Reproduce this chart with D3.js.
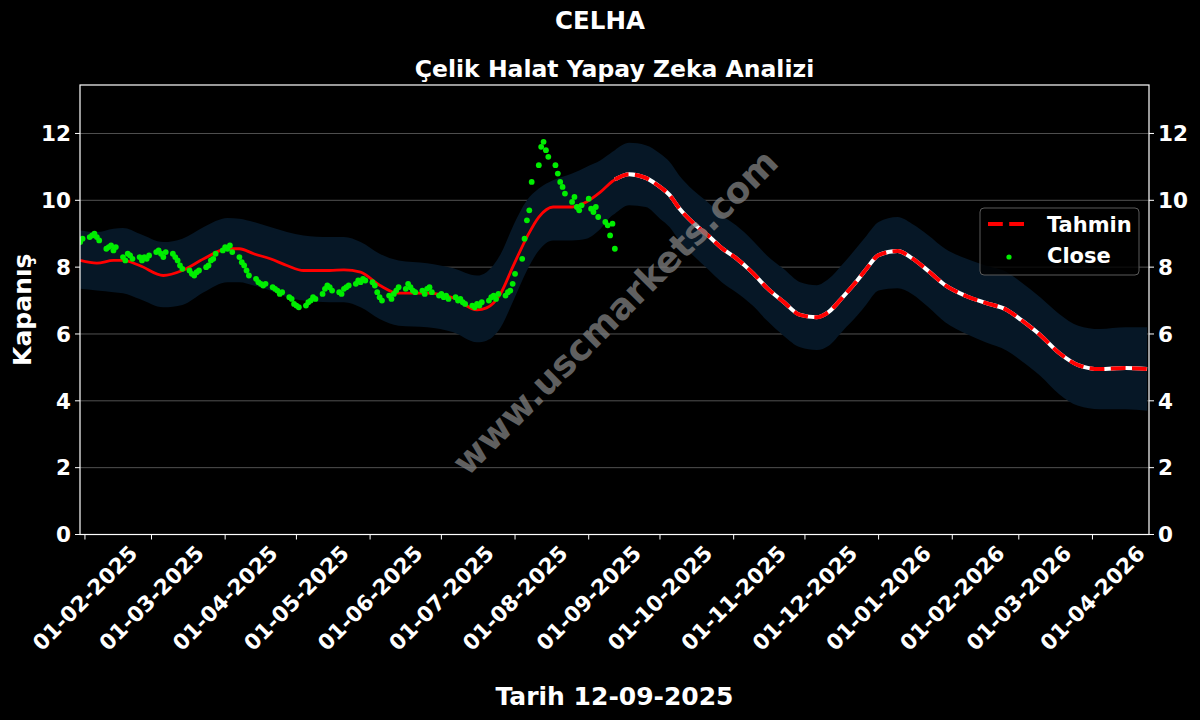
<!DOCTYPE html>
<html><head><meta charset="utf-8">
<script src="https://cdn.jsdelivr.net/npm/d3@7"></script>
<style>html,body{margin:0;padding:0;background:#000;} svg{display:block}</style>
</head><body>
<script>
// ---------------- DATA ----------------
const chartTitle = "CELHA";
const chartSubtitle = "Çelik Halat Yapay Zeka Analizi";
const xAxisTitle = "Tarih 12-09-2025";
const yAxisTitle = "Kapanış";
const watermarkText = "www.uscmarkets.com";
const legendLabels = ["Tahmin", "Close"];

// Close prices, one per weekday starting at closeStart
const closeStart = "2025-01-30";
const closeValues = [
  8.75, 8.85,
  8.9, 8.95, 9.0, 8.9, 8.8,
  8.55, 8.6, 8.65, 8.5, 8.6,
  8.3, 8.2, 8.4, 8.35, 8.25,
  8.3, 8.2, 8.3, 8.25, 8.35,
  8.45, 8.5, 8.4, 8.3, 8.45,
  8.4, 8.3, 8.2, 8.05, 7.95,
  7.9, 7.8, 7.75, 7.85, 7.9,
  8.0, 8.05, 8.2, 8.25, 8.4,
  8.5, 8.6, 8.55, 8.65, 8.45,
  8.3, 8.15, 8.05, 7.9, 7.75,
  7.65, 7.55, 7.5, 7.45, 7.5,
  7.4, 7.35, 7.3, 7.2, 7.25,
  7.1, 7.05, 6.9, 6.85, 6.8,
  6.85, 6.95, 7.0, 7.1, 7.05,
  7.2, 7.35, 7.45, 7.4, 7.3,
  7.25, 7.2, 7.35, 7.4, 7.45,
  7.5, 7.6, 7.55, 7.65, 7.6,
  7.55, 7.45, 7.25, 7.1, 7.0,
  7.15, 7.05, 7.2, 7.3, 7.4,
  7.35, 7.5, 7.4, 7.3, 7.25,
  7.3, 7.2, 7.35, 7.4, 7.25,
  7.15, 7.2, 7.1, 7.15, 7.05,
  7.1, 7.0, 7.05, 6.95, 6.9,
  6.85, 6.8, 6.9, 6.85, 6.95,
  7.0, 7.1, 7.15, 7.05, 7.2,
  7.15, 7.25, 7.3, 7.5, 7.8,
  8.25, 8.85, 9.4, 9.7, 10.55,
  11.05, 11.6, 11.75, 11.5, 11.3,
  11.05, 10.8, 10.55, 10.4, 10.2,
  9.95, 10.1, 9.8, 9.7, 9.85,
  10.05, 9.75, 9.65, 9.8, 9.5,
  9.35, 9.25, 8.95, 9.3, 8.55
];

const predDates = [
  "2025-01-30","2025-02-06","2025-02-13","2025-02-17","2025-02-24","2025-03-06","2025-03-14","2025-03-23",
  "2025-04-02","2025-04-07","2025-04-13","2025-04-20","2025-04-27","2025-05-04","2025-05-15","2025-05-21",
  "2025-05-28","2025-06-05","2025-06-13","2025-06-25","2025-07-06","2025-07-16","2025-07-20","2025-07-26",
  "2025-07-31","2025-08-06","2025-08-11","2025-08-17","2025-08-25","2025-08-31","2025-09-06","2025-09-11",
  "2025-09-12","2025-09-18","2025-09-25","2025-10-01","2025-10-05","2025-10-09","2025-10-15","2025-10-21",
  "2025-10-27","2025-11-02","2025-11-09","2025-11-15","2025-11-22","2025-11-29","2025-12-06","2025-12-11",
  "2025-12-17","2025-12-23","2025-12-27","2026-01-01","2026-01-09","2026-01-15","2026-01-22","2026-01-29",
  "2026-02-07","2026-02-15","2026-02-24","2026-03-02","2026-03-10","2026-03-18","2026-03-26","2026-04-04",
  "2026-04-15","2026-04-24"
];
const predValues = [
  8.2, 8.12, 8.2, 8.2, 8.05, 7.75, 7.9, 8.25,
  8.55, 8.55, 8.4, 8.25, 8.05, 7.9, 7.9, 7.92,
  7.85, 7.46, 7.22, 7.22, 7.08, 6.72, 6.78, 7.22,
  8.0, 8.9, 9.5, 9.8, 9.8, 9.95, 10.25, 10.57,
  10.62, 10.78, 10.67, 10.4, 10.16, 9.77, 9.32, 8.96,
  8.57, 8.27, 7.83, 7.38, 6.96, 6.57, 6.5, 6.66,
  7.11, 7.6, 7.96, 8.36, 8.48, 8.27, 7.88, 7.46,
  7.13, 6.93, 6.72, 6.42, 5.97, 5.43, 5.07, 4.95,
  4.98, 4.95
];
const bandUpper = [
  9.1, 9.05, 9.15, 9.17, 9.0, 8.75, 8.85, 9.2,
  9.47, 9.45, 9.35, 9.2, 9.05, 8.95, 8.9, 8.9,
  8.75, 8.4, 8.2, 8.12, 7.97, 7.75, 7.85, 8.4,
  9.2, 10.0, 10.35, 10.6, 10.8, 11.0, 11.2, 11.45,
  11.5, 11.72, 11.65, 11.4, 11.15, 10.75, 10.3, 9.95,
  9.55, 9.25, 8.8, 8.35, 7.95, 7.55, 7.46, 7.65,
  8.1, 8.6, 8.95, 9.35, 9.5, 9.3, 8.95, 8.55,
  8.25, 8.05, 7.85, 7.55, 7.1, 6.6, 6.25, 6.15,
  6.2, 6.2
];
const bandLower = [
  7.35, 7.3, 7.25, 7.22, 7.05, 6.8, 6.87, 7.25,
  7.55, 7.55, 7.45, 7.3, 7.1, 7.0, 6.95, 6.95,
  6.8, 6.45, 6.25, 6.2, 6.05, 5.75, 5.8, 6.2,
  6.95, 7.9, 8.5, 8.8, 8.8, 8.85, 9.15, 9.55,
  9.6, 9.85, 9.8, 9.45, 9.2, 8.8, 8.35, 7.95,
  7.55, 7.25, 6.85, 6.4, 5.95, 5.6, 5.52, 5.65,
  6.1, 6.55, 6.9, 7.3, 7.37, 7.2, 6.8, 6.35,
  6.0, 5.75, 5.5, 5.2, 4.75, 4.2, 3.85, 3.75,
  3.75, 3.7
];
const forecastStart = "2025-09-12";

const xTickDates = ["2025-02-01","2025-03-01","2025-04-01","2025-05-01","2025-06-01","2025-07-01","2025-08-01",
  "2025-09-01","2025-10-01","2025-11-01","2025-12-01","2026-01-01","2026-02-01","2026-03-01","2026-04-01"];
const yTickValues = [0, 2, 4, 6, 8, 10, 12];

// ---------------- LAYOUT ----------------
const W = 1200, H = 720;
const plot = {left: 80, right: 1149, top: 85, bottom: 534.5};
const xDomain = [new Date(Date.UTC(2025,0,29,22)), new Date(Date.UTC(2026,3,24,19))];
const yDomain = [0, 13.45];
const FONT = "'DejaVu Sans', sans-serif";

const parse = d3.utcParse("%Y-%m-%d");
const fmt = d3.utcFormat("%d-%m-%Y");

// close dates: consecutive weekdays
const closeDates = [];
{
  let d = parse(closeStart);
  while (closeDates.length < closeValues.length) {
    const wd = d.getUTCDay();
    if (wd !== 0 && wd !== 6) closeDates.push(new Date(d));
    d = d3.utcDay.offset(d, 1);
  }
}
const closeData = closeValues.map((v, i) => ({date: closeDates[i], value: v}));
const predData = predValues.map((v, i) => ({date: parse(predDates[i]), value: v, hi: bandUpper[i], lo: bandLower[i]}));
const fStart = parse(forecastStart);
const predHist = predData.filter(d => d.date <= fStart);
const predFut = predData.filter(d => d.date >= fStart);

const x = d3.scaleUtc().domain(xDomain).range([plot.left, plot.right]);
const y = d3.scaleLinear().domain(yDomain).range([plot.bottom, plot.top]);

const svg = d3.select("body").append("svg").attr("width", W).attr("height", H)
  .style("background", "#000");
svg.append("rect").attr("width", W).attr("height", H).attr("fill", "#000");

const clipId = "plotclip";
svg.append("clipPath").attr("id", clipId).append("rect")
  .attr("x", plot.left).attr("y", plot.top)
  .attr("width", plot.right - plot.left).attr("height", plot.bottom - plot.top);

// gridlines
svg.append("g").selectAll("line").data(yTickValues).join("line")
  .attr("x1", plot.left).attr("x2", plot.right)
  .attr("y1", d => y(d)).attr("y2", d => y(d))
  .attr("stroke", "#7a7a7a").attr("stroke-width", 0.8).attr("opacity", 0.85);

const g = svg.append("g").attr("clip-path", `url(#${clipId})`);

// band
g.append("path").datum(predData)
  .attr("d", d3.area().x(d => x(d.date)).y0(d => y(d.lo)).y1(d => y(d.hi)).curve(d3.curveMonotoneX))
  .attr("fill", "#061726");

// watermark
svg.append("text")
  .attr("transform", `translate(615,312) rotate(-45)`)
  .attr("text-anchor", "middle").attr("dominant-baseline", "central")
  .attr("font-family", FONT).attr("font-weight", "bold").attr("font-size", 36)
  .attr("fill", "#808080").attr("opacity", 0.75)
  .text(watermarkText);

const line = d3.line().x(d => x(d.date)).y(d => y(d.value)).curve(d3.curveMonotoneX);

// historic prediction
g.append("path").datum(predHist).attr("d", line)
  .attr("fill", "none").attr("stroke", "#ff0000").attr("stroke-width", 2.8);

// future prediction: white underlay + red dashes
g.append("path").datum(predFut).attr("d", line)
  .attr("fill", "none").attr("stroke", "#ffffff").attr("stroke-width", 4);
g.append("path").datum(predFut).attr("d", line)
  .attr("fill", "none").attr("stroke", "#ff0000").attr("stroke-width", 4)
  .attr("stroke-dasharray", "14.8,6.4");

// close points
g.append("g").selectAll("circle").data(closeData).join("circle")
  .attr("cx", d => x(d.date)).attr("cy", d => y(d.value)).attr("r", 2.9)
  .attr("fill", "#00ee00");

// frame
svg.append("rect").attr("x", plot.left).attr("y", plot.top)
  .attr("width", plot.right - plot.left).attr("height", plot.bottom - plot.top)
  .attr("fill", "none").attr("stroke", "#fff").attr("stroke-width", 1.2);

// y ticks left & right
const yfs = 21.5;
const yt = svg.append("g");
yTickValues.forEach(v => {
  yt.append("line").attr("x1", plot.left - 5).attr("x2", plot.left).attr("y1", y(v)).attr("y2", y(v))
    .attr("stroke", "#fff").attr("stroke-width", 1);
  yt.append("line").attr("x1", plot.right).attr("x2", plot.right + 5).attr("y1", y(v)).attr("y2", y(v))
    .attr("stroke", "#fff").attr("stroke-width", 1);
  yt.append("text").attr("x", plot.left - 9).attr("y", y(v)).attr("dy", "0.36em")
    .attr("text-anchor", "end").attr("font-family", FONT).attr("font-weight", "bold")
    .attr("font-size", yfs).attr("fill", "#fff").text(v);
  yt.append("text").attr("x", plot.right + 9).attr("y", y(v)).attr("dy", "0.36em")
    .attr("text-anchor", "start").attr("font-family", FONT).attr("font-weight", "bold")
    .attr("font-size", yfs).attr("fill", "#fff").text(v);
});

// x ticks
const xt = svg.append("g");
const xfs = 21.5;
xTickDates.forEach(s => {
  const d = parse(s), px = x(d);
  xt.append("line").attr("x1", px).attr("x2", px).attr("y1", plot.bottom).attr("y2", plot.bottom + 5)
    .attr("stroke", "#fff").attr("stroke-width", 1);
  const t = xt.append("text").attr("font-family", FONT).attr("font-weight", "bold")
    .attr("font-size", xfs).attr("fill", "#fff").attr("text-anchor", "middle")
    .attr("dominant-baseline", "central").text(fmt(d));
  const L = t.node().getComputedTextLength();
  const bh = (L + xfs * 0.78) / Math.SQRT2;
  const cy = plot.bottom + 9 + bh / 2;
  t.attr("transform", `translate(${px},${cy}) rotate(-45)`);
});

// titles
svg.append("text").attr("x", W / 2).attr("y", 29).attr("text-anchor", "middle")
  .attr("font-family", FONT).attr("font-weight", "bold").attr("font-size", 24.5).attr("fill", "#fff")
  .text(chartTitle);
svg.append("text").attr("x", (plot.left + plot.right) / 2).attr("y", 77).attr("text-anchor", "middle")
  .attr("font-family", FONT).attr("font-weight", "bold").attr("font-size", 23.5).attr("fill", "#fff")
  .text(chartSubtitle);
svg.append("text").attr("x", (plot.left + plot.right) / 2).attr("y", 705).attr("text-anchor", "middle")
  .attr("font-family", FONT).attr("font-weight", "bold").attr("font-size", 25).attr("fill", "#fff")
  .text(xAxisTitle);
svg.append("text").attr("transform", `translate(31,${(plot.top + plot.bottom) / 2}) rotate(-90)`)
  .attr("text-anchor", "middle")
  .attr("font-family", FONT).attr("font-weight", "bold").attr("font-size", 25).attr("fill", "#fff")
  .text(yAxisTitle);

// legend
const lfs = 21;
const lg = svg.append("g");
lg.append("rect").attr("x", 980).attr("y", 208).attr("width", 159).attr("height", 67).attr("rx", 4)
  .attr("fill", "#000").attr("fill-opacity", 0.8).attr("stroke", "#5a5a5a").attr("stroke-width", 1);
lg.append("line").attr("x1", 988).attr("x2", 1030).attr("y1", 224).attr("y2", 224)
  .attr("stroke", "#ff0000").attr("stroke-width", 4).attr("stroke-dasharray", "14.8,6.4");
lg.append("circle").attr("cx", 1009).attr("cy", 257).attr("r", 2.6).attr("fill", "#00ee00");
lg.append("text").attr("x", 1047).attr("y", 224).attr("dy", "0.36em")
  .attr("font-family", FONT).attr("font-weight", "bold").attr("font-size", lfs).attr("fill", "#fff")
  .text(legendLabels[0]);
lg.append("text").attr("x", 1047).attr("y", 255).attr("dy", "0.36em")
  .attr("font-family", FONT).attr("font-weight", "bold").attr("font-size", lfs).attr("fill", "#fff")
  .text(legendLabels[1]);
</script>
</body></html>
